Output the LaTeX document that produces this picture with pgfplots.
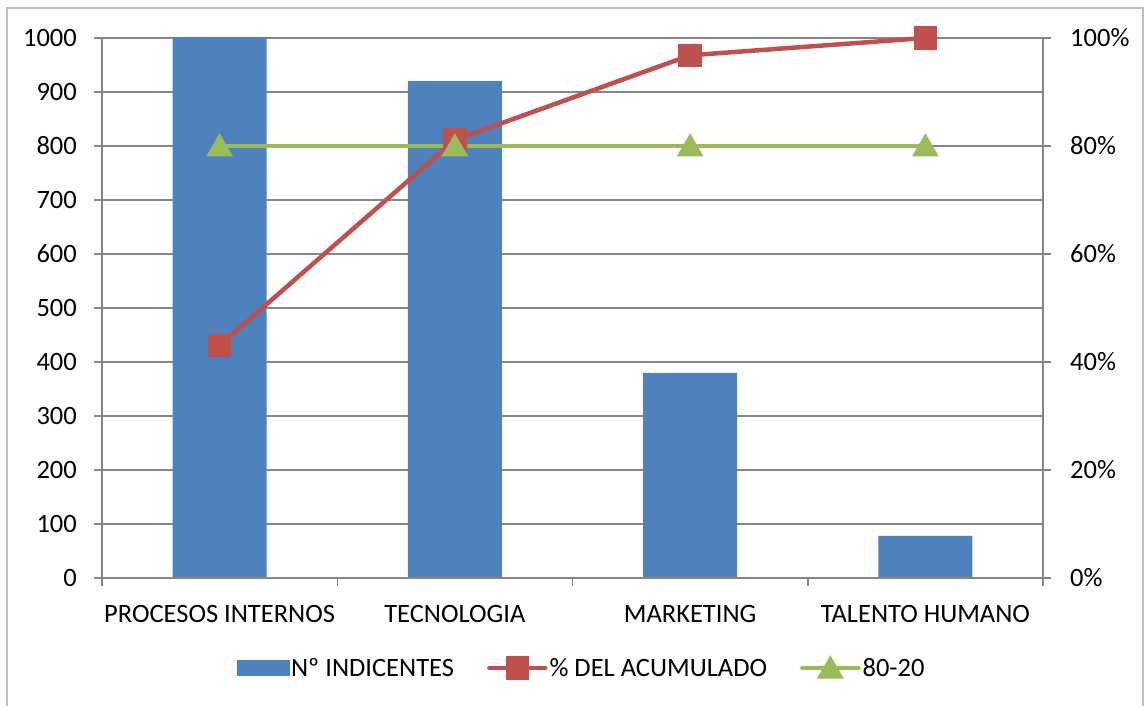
\documentclass[border=0pt]{standalone}
\usepackage{fontspec}
\setmainfont{Carlito}
\usepackage{pgfplots}
\pgfplotsset{compat=1.18}
\definecolor{barblue}{HTML}{4F81BD}
\definecolor{cumred}{HTML}{C0504D}
\definecolor{refgreen}{HTML}{9BBB59}
\definecolor{axisgray}{HTML}{868686}
\begin{document}
\begin{tikzpicture}[x=1pt,y=1pt]
\useasboundingbox (0,0) rectangle (1145,706);
% chart frame
\draw[line width=1.5pt, color=black!25] (7,-10) -- (7,698) -- (1143,698) -- (1143,-10);

\pgfplotsset{
  pareto/.style={
    at={(102pt,128pt)}, anchor=south west,
    width=941pt, height=540pt, scale only axis,
    xmin=-0.5, xmax=3.5,
    font=\fontsize{26.5}{31}\selectfont,
    /pgf/number format/assume math mode=true,
    /pgf/number format/1000 sep={},
    axis line style={axisgray, line width=1.5pt},
    tick style={axisgray, line width=1.5pt},
    major tick length=8pt,
    tick align=outside,
  }
}

% counts per area (left axis)
\begin{axis}[pareto,
  ymin=0, ymax=1000, ytick={0,100,...,1000},
  ymajorgrids, grid style={axisgray, line width=1.5pt},
  axis y line*=left, axis x line*=bottom,
  xtick={-0.5,0.5,1.5,2.5,3.5}, xticklabels={},
  yticklabel style={inner sep=0pt, xshift=-17pt},
]
\addplot[ybar, bar width=94pt, fill=barblue, draw=none]
  coordinates {(0,1044) (1,920) (2,380) (3,78)};
\end{axis}

% cumulative share and 80% reference (right axis)
\begin{axis}[pareto,
  ymin=0, ymax=100, ytick={0,20,...,100},
  yticklabel={\pgfmathprintnumber{\tick}\%},
  axis y line*=right, axis x line*=bottom,
  xtick={0,1,2,3},
  xticklabels={PROCESOS INTERNOS, TECNOLOGIA, MARKETING, TALENTO HUMANO},
  xtick style={draw=none},
  xticklabel style={inner sep=0pt, yshift=-19pt},
  yticklabel style={inner sep=0pt, xshift=19pt},
  clip=false,
  legend columns=3,
  legend style={at={(0.5096,-0.1667)}, anchor=center, draw=none,
    font=\fontsize{26.5}{31}\selectfont,
    nodes={inner sep=2pt},
    /tikz/every even column/.append style={column sep=31pt}},
  legend image code/.code={%
    \draw[mark repeat=2,mark phase=2,line cap=round,#1]
      plot coordinates {(0pt,0pt) (28pt,0pt) (56pt,0pt)};},
]
\addlegendimage{legend image code/.code={\fill[barblue] (0pt,-7.5pt) rectangle (52pt,7.5pt);}}
\addlegendentry{Nº INDICENTES}
\addplot[cumred, line width=4.5pt, mark=square*, mark size=9.5pt,
  mark options={fill=cumred, draw=none}]
  coordinates {(0,43.1) (1,81.1) (2,96.8) (3,100)};
\addlegendentry{\% DEL ACUMULADO}
\addplot[refgreen, line width=4.5pt, mark=triangle*, mark size=11pt,
  mark options={fill=refgreen, draw=none, yshift=-2.75pt}]
  coordinates {(0,80) (1,80) (2,80) (3,80)};
\addlegendentry{80-20}
\end{axis}
\end{tikzpicture}
\end{document}
